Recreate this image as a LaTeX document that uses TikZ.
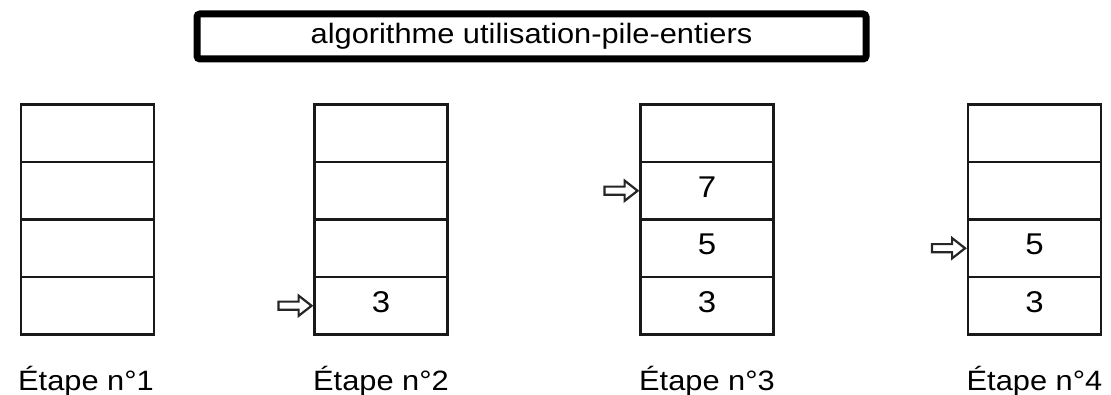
\documentclass[tikz,border=0pt]{standalone}
\usepackage{fontspec}
\setmainfont{Liberation Sans}[FakeStretch=1.1]
\usetikzlibrary{shapes.arrows}
\tikzset{
  cell/.style={draw=black!90, line width=2.3pt, minimum width=133pt, minimum height=57.5pt, inner sep=0pt},
  num/.style={font=\fontsize{30}{32}\selectfont, inner sep=0pt},
  ptr/.style={single arrow, draw=black!85, fill=white, line width=2.2pt, minimum height=33pt, inner xsep=0pt, inner ysep=3pt, single arrow head extend=6pt, single arrow tip angle=76, anchor=tip},
  lbl/.style={font=\fontsize{28}{30}\selectfont, anchor=base, inner sep=0pt},
  titlebox/.style={draw=black, line width=7pt, rounded corners=3pt, minimum width=669pt, minimum height=45pt, inner sep=0pt, font=\fontsize{28}{32}\selectfont}
}
\begin{document}
\begin{tikzpicture}[x=1pt,y=-1pt]
\useasboundingbox (0,0) rectangle (1111,395);
\node[titlebox] (title) at (531.5,36.5) {algorithme utilisation-pile-entiers};
\foreach \s/\cx in {1/87.5, 2/381, 3/707, 4/1034.5}{
  \node[cell] (s\s c1) at (\cx,133.25) {};
  \node[cell] (s\s c2) at (\cx,190.75) {};
  \node[cell] (s\s c3) at (\cx,248.25) {};
  \node[cell] (s\s c4) at (\cx,305.75) {};
}
\node[num] (n2a) at ([yshift=4pt]s2c4.center) {3};
\node[num] (n3a) at ([yshift=4pt]s3c2.center) {7};
\node[num] (n3b) at ([yshift=4pt]s3c3.center) {5};
\node[num] (n3c) at ([yshift=4pt]s3c4.center) {3};
\node[num] (n4a) at ([yshift=4pt]s4c3.center) {5};
\node[num] (n4b) at ([yshift=4pt]s4c4.center) {3};
\node[ptr] (a2) at (s2c4.west) {};
\node[ptr] (a3) at (s3c2.west) {};
\node[ptr] (a4) at (s4c3.west) {};
\node[lbl] (l1) at (86,390) {Étape n°1};
\node[lbl] (l2) at (381,390) {Étape n°2};
\node[lbl] (l3) at (707,390) {Étape n°3};
\node[lbl] (l4) at (1034.5,390) {Étape n°4};
\end{tikzpicture}
\end{document}
